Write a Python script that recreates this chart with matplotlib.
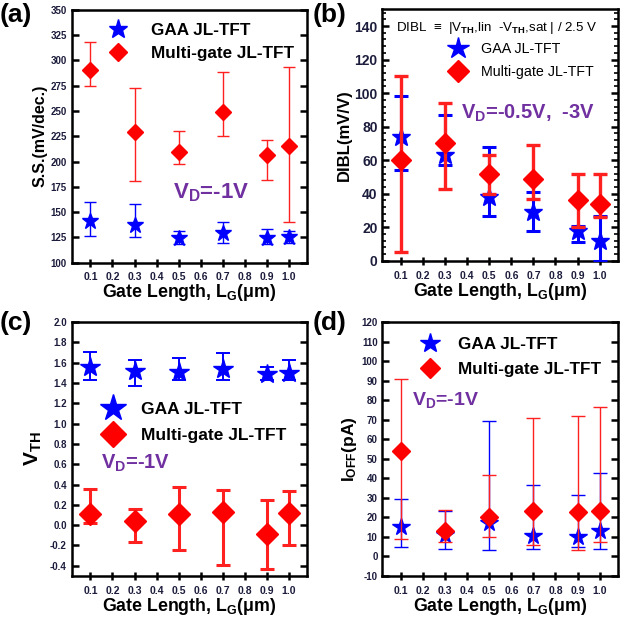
import matplotlib
matplotlib.use("Agg")
import matplotlib.pyplot as plt
from matplotlib.lines import Line2D
from matplotlib.ticker import MultipleLocator
import numpy as np

plt.rcParams["font.family"] = ["Liberation Sans", "DejaVu Sans"]
plt.rcParams["mathtext.fontset"] = "custom"
plt.rcParams["mathtext.rm"] = "Liberation Sans"
plt.rcParams["mathtext.bf"] = "Liberation Sans:bold"
plt.rcParams["mathtext.it"] = "Liberation Sans:italic"

lg = [0.1, 0.3, 0.5, 0.7, 0.9, 1.0]
x_ticks = [0.1, 0.2, 0.3, 0.4, 0.5, 0.6, 0.7, 0.8, 0.9, 1.0]

# (a) subthreshold swing, mV/dec
ss_gaa = [141, 137, 124, 129, 124, 125]
ss_gaa_hi = [160, 158, 131, 140, 133, 131]
ss_gaa_lo = [126, 125, 118, 119, 118, 119]
ss_mg = [291, 229, 209, 249, 206, 215]
ss_mg_hi = [318, 273, 230, 289, 221, 294]
ss_mg_lo = [275, 181, 198, 225, 182, 140]

# (b) DIBL, mV/V
dibl_gaa = [74, 63, 38, 29, 18, 12]
dibl_gaa_hi = [98, 87, 68, 41, 21, 27]
dibl_gaa_lo = [54, 57, 27, 18, 11, 0]
dibl_mg = [60, 70, 52, 49, 36, 34]
dibl_mg_hi = [110, 94, 63, 69, 52, 52]
dibl_mg_lo = [5, 43, 40, 37, 20, 26]

# (c) threshold voltage, V
vth_gaa = [1.56, 1.52, 1.51, 1.54, 1.49, 1.50]
vth_gaa_hi = [1.70, 1.63, 1.65, 1.69, 1.56, 1.63]
vth_gaa_lo = [1.43, 1.37, 1.43, 1.43, 1.43, 1.43]
vth_mg = [0.11, 0.04, 0.11, 0.13, -0.09, 0.12]
vth_mg_hi = [0.36, 0.16, 0.38, 0.35, 0.25, 0.34]
vth_mg_lo = [0.02, -0.17, -0.24, -0.39, -0.43, -0.20]

# (d) off current, pA
ioff_gaa = [15, 11, 17, 10.5, 10, 13]
ioff_gaa_hi = [29.5, 23, 69.5, 36.5, 31.5, 42.5]
ioff_gaa_lo = [5, 4, 3.5, 4, 5, 4]
ioff_mg = [54, 13, 20, 23, 22.5, 23.5]
ioff_mg_hi = [91, 24, 41.5, 71, 72, 76.5]
ioff_mg_lo = [9, 7.5, 10, 6, 3.5, 7.5]

TICK_C = "#1c1c3c"
PURPLE = "#7030a0"


def yerr(v, lo, hi):
    v = np.array(v)
    return [v - np.array(lo), np.array(hi) - v]


def style_axes(ax, ylim, ystep, yfmt, ysize=7, minor=None):
    ax.set_xlim(0.015, 1.083)
    ax.set_ylim(*ylim)
    ax.set_xticks(x_ticks)
    ax.set_xticklabels([f"{t:.1f}" for t in x_ticks])
    ax.yaxis.set_major_locator(MultipleLocator(ystep))
    ax.yaxis.set_major_formatter(plt.FuncFormatter(lambda v, p: yfmt.format(v)))
    if minor:
        ax.yaxis.set_minor_locator(MultipleLocator(minor))
        ax.tick_params(axis="y", which="minor", direction="in", length=3, width=1.2,
                       right=True)
    ax.tick_params(axis="x", direction="inout", length=6, width=1.8, pad=4,
                   labelsize=7.5, labelcolor=TICK_C)
    ax.tick_params(axis="y", direction="in", length=5, width=1.8, right=True,
                   labelsize=ysize, labelcolor=TICK_C)
    for lab in ax.get_xticklabels() + ax.get_yticklabels():
        lab.set_fontweight("bold")
    for sp in ax.spines.values():
        sp.set_linewidth(1.8)
    ax.set_xlabel(r"Gate Length, L$_\mathbf{G}$($\mathbf{\mu}$m)", fontsize=12.8,
                  fontweight="bold", labelpad=0)


def add_legend(ax, anchor, size, bold, ms, spacing, pad):
    handles = [
        Line2D([], [], ls="none", marker="*", color="blue", markersize=ms),
        Line2D([], [], ls="none", marker="D", color="red", markersize=ms * 0.68),
    ]
    ax.legend(handles, ["GAA JL-TFT", "Multi-gate JL-TFT"], loc="upper left",
              bbox_to_anchor=anchor, frameon=False, handlelength=1.0,
              handletextpad=pad, labelspacing=spacing, borderaxespad=0,
              borderpad=0, prop={"size": size, "weight": "bold" if bold else "normal"})


def draw(ax, gaa, gaa_lo, gaa_hi, mg, mg_lo, mg_hi, ms, lw_b, lw_r, cap):
    ax.errorbar(lg, gaa, yerr=yerr(gaa, gaa_lo, gaa_hi), fmt="*", color="blue",
                markersize=ms, ecolor="blue", elinewidth=lw_b, capsize=cap,
                capthick=lw_b, zorder=3)
    ax.errorbar(lg, mg, yerr=yerr(mg, mg_lo, mg_hi), fmt="D", color="red",
                markersize=ms * 0.72, ecolor="#ff2020", elinewidth=lw_r, capsize=cap,
                capthick=lw_r, zorder=4)


fig = plt.figure(figsize=(6.26, 6.18), dpi=100)
ax_a = fig.add_axes([0.1145, 0.575, 0.3764, 0.409])
ax_b = fig.add_axes([0.611, 0.578, 0.376, 0.407])
ax_c = fig.add_axes([0.1145, 0.068, 0.3764, 0.411])
ax_d = fig.add_axes([0.611, 0.068, 0.376, 0.411])

# (a)
draw(ax_a, ss_gaa, ss_gaa_lo, ss_gaa_hi, ss_mg, ss_mg_lo, ss_mg_hi, 12, 1.0, 1.0, 4)
style_axes(ax_a, (100, 350), 25, "{:.0f}", ysize=7)
ax_a.set_ylabel("S.S.(mV/dec.)", fontsize=11.5, fontweight="bold", labelpad=2)
add_legend(ax_a, (0.162, 0.95), 12.3, True, 14, 0.5, 1.4)
ax_a.text(0.474, 169, r"$\mathbf{V_D}$=-1V", color=PURPLE, fontsize=16,
          fontweight="bold", va="center")

# (b)
draw(ax_b, dibl_gaa, dibl_gaa_lo, dibl_gaa_hi, dibl_mg, dibl_mg_lo, dibl_mg_hi,
     14, 2.2, 2.4, 5)
style_axes(ax_b, (0, 150), 20, "{:.0f}", ysize=10, minor=4)
ax_b.set_ylabel("DIBL(mV/V)", fontsize=12, fontweight="bold", labelpad=2)
add_legend(ax_b, (0.29, 0.87), 10.3, False, 16, 0.65, 1.08)
ax_b.text(0.057, 0.925,
          r"DIBL  ≡  |V$_{\mathbf{TH}}$,lin  -V$_{\mathbf{TH}}$,sat | / 2.5 V",
          transform=ax_b.transAxes, fontsize=9.6, va="center")
ax_b.text(0.37, 88, r"$\mathbf{V_D}$=-0.5V,  -3V", color=PURPLE, fontsize=14.5,
          fontweight="bold", va="center")

# (c)
draw(ax_c, vth_gaa, vth_gaa_lo, vth_gaa_hi, vth_mg, vth_mg_lo, vth_mg_hi,
     15, 1.4, 2.2, 5)
style_axes(ax_c, (-0.5, 2.0), 0.2, "{:.1f}", ysize=7)
ax_c.set_ylabel(r"V$_{\mathbf{TH}}$", fontsize=15, fontweight="bold", labelpad=4)
add_legend(ax_c, (0.139, 0.685), 12.5, True, 20, 0.6, 1.12)
ax_c.text(0.15, 0.61, r"$\mathbf{V_D}$=-1V", color=PURPLE, fontsize=14.5,
          fontweight="bold", va="center")

# (d)
draw(ax_d, ioff_gaa, ioff_gaa_lo, ioff_gaa_hi, ioff_mg, ioff_mg_lo, ioff_mg_hi,
     13, 1.0, 1.0, 5)
style_axes(ax_d, (-10, 120), 10, "{:.0f}", ysize=7)
ax_d.set_ylabel(r"I$_{\mathbf{OFF}}$(pA)", fontsize=12.5, fontweight="bold", labelpad=2)
add_legend(ax_d, (0.166, 0.94), 12.3, True, 15, 0.55, 1.15)
ax_d.text(0.15, 80, r"$\mathbf{V_D}$=-1V", color=PURPLE, fontsize=14,
          fontweight="bold", va="center")

for lbl, (fx, fy) in zip(["(a)", "(b)", "(c)", "(d)"],
                         [(0.0, 0.975), (0.5, 0.975), (0.0, 0.478), (0.5, 0.478)]):
    fig.text(fx, fy, lbl, fontsize=19, fontweight="bold", va="center", ha="left")

fig.savefig("out.png", dpi=100)
